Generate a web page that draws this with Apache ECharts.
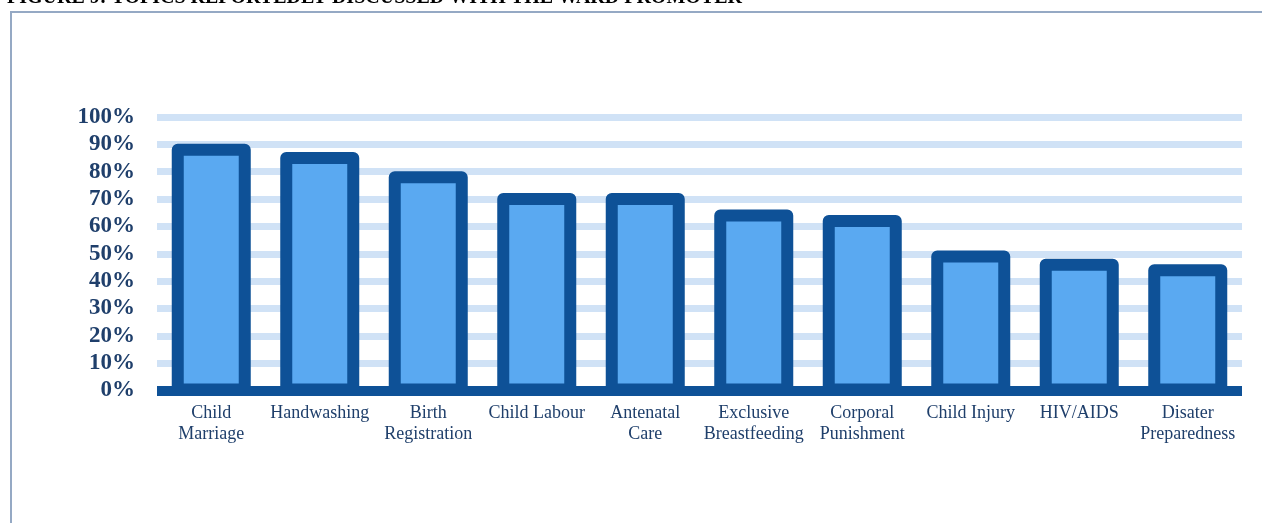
<!DOCTYPE html>
<html lang="en">
<head>
    <meta charset="UTF-8">
    <title>Topics discussed</title>
    <script src="https://cdn.jsdelivr.net/npm/echarts@6/dist/echarts.min.js"></script>
    <style type="text/css">
        body{
            margin:0;
            background:#fff;
        }
    </style>
</head>
<body>
<div id="main" style="width: 1262px;height:523px;"></div>
<script type="text/javascript">
    var categories = ['Child\nMarriage', 'Handwashing', 'Birth\nRegistration', 'Child Labour', 'Antenatal\nCare',
        'Exclusive\nBreastfeeding', 'Corporal\nPunishment', 'Child Injury', 'HIV/AIDS', 'Disater\nPreparedness'];
    var percents = [88, 85, 78, 70, 70, 64, 62, 49, 46, 44];
    var titleText = 'FIGURE 9: TOPICS REPORTEDLY DISCUSSED WITH THE WARD PROMOTER';

    var myChart = echarts.init(document.getElementById('main'));

    // bar with the border centred on the edge (like the original), so the
    // value sits in the middle of the thick outline
    function renderBar(params, api) {
        var top = api.coord([api.value(0), api.value(1)]);
        var base = api.coord([api.value(0), 0]);
        var w = 67;
        return {
            type: 'rect',
            shape: {x: top[0] - w / 2, y: top[1], width: w, height: base[1] - top[1] - 1},
            style: {
                fill: '#5aa9f1',
                stroke: '#0e5197',
                lineWidth: 12,
                lineJoin: 'round'
            }
        };
    }

    var option = {
        animation: false,
        grid: {
            left: 157,
            right: 20,
            top: 117,
            bottom: 132.5
        },
        graphic: [
            {
                type: 'rect',
                shape: {x: 11, y: 12, width: 1400, height: 700},
                style: {fill: null, stroke: '#95a9c4', lineWidth: 2}
            },
            {
                type: 'text',
                x: 7,
                y: -2,
                style: {
                    text: titleText,
                    font: 'bold 20px "Liberation Serif", "Times New Roman", serif',
                    fill: '#000',
                    verticalAlign: 'middle'
                }
            }
        ],
        xAxis: {
            type: 'category',
            data: categories,
            z: 5,
            axisTick: {show: false},
            axisLine: {
                lineStyle: {color: '#0e5197', width: 10, cap: 'butt'}
            },
            axisLabel: {
                interval: 0,
                margin: 12,
                fontFamily: '"Liberation Serif", "Times New Roman", serif',
                fontSize: 18,
                lineHeight: 21,
                color: '#1f3f6b'
            }
        },
        yAxis: {
            type: 'value',
            min: 0,
            max: 100,
            interval: 10,
            axisLine: {show: false},
            axisTick: {show: false},
            axisLabel: {
                formatter: '{value}%',
                margin: 22,
                fontFamily: '"Liberation Serif", "Times New Roman", serif',
                fontWeight: 'bold',
                fontSize: 23,
                color: '#1f3f6b'
            },
            splitLine: {
                lineStyle: {color: '#d0e2f6', width: 7}
            }
        },
        series: [
            {
                type: 'custom',
                renderItem: renderBar,
                encode: {x: 0, y: 1},
                data: percents.map(function (v, i) { return [i, v]; })
            }
        ]
    };
    myChart.setOption(option);
</script>
</body>
</html>
